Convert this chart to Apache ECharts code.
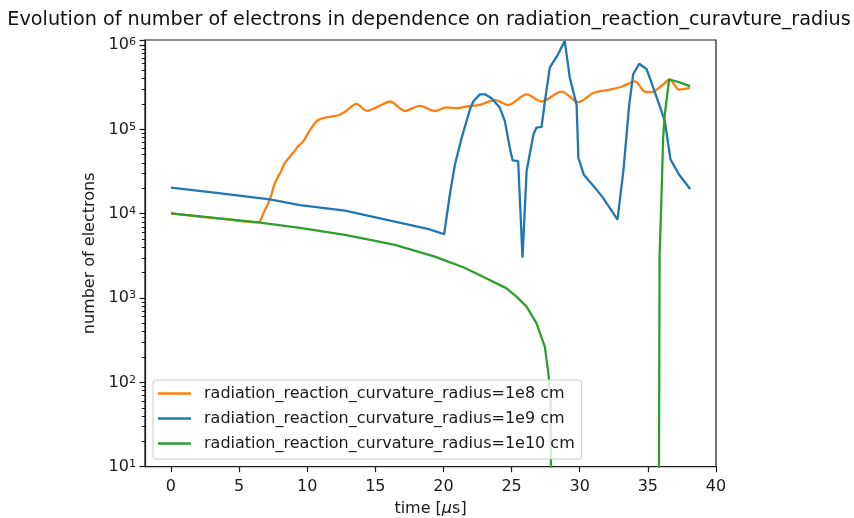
<!DOCTYPE html>
<html>
<head>
<meta charset="utf-8">
<script src="https://cdn.jsdelivr.net/npm/echarts@6/dist/echarts.min.js"></script>
<style>
html,body{margin:0;padding:0;background:#fff;}
#chart{width:854px;height:518px;}
</style>
</head>
<body>
<div id="chart"></div>
<script>
// ---- data ----
const titleText = 'Evolution of number of electrons in dependence on radiation_reaction_curavture_radius';
const seriesNames = [
  'radiation_reaction_curvature_radius=1e8 cm',
  'radiation_reaction_curvature_radius=1e9 cm',
  'radiation_reaction_curvature_radius=1e10 cm'
];
const xTicks = [0, 5, 10, 15, 20, 25, 30, 35, 40];
const yTicks = [10, 100, 1000, 10000, 100000, 1000000];

const orangeT = [0, 2, 4, 6.41, 6.77, 7.26, 7.63, 8.12, 8.36, 8.85, 9.34, 9.71, 10.2, 10.56, 10.8, 11.3, 12.28, 12.77, 13.62, 14.35, 15.2, 16.07, 17.17, 18.27, 19.37, 20.2, 20.96, 21.8, 22.67, 23.77, 24.75, 26.1, 27.2, 28.66, 29.9, 31.0, 32.2, 33.07, 34.04, 34.78, 35.27, 36.12, 36.6, 37.3, 38.1];
const orangeV = [1.01e4, 9.3e3, 8.6e3, 7.9e3, 1.0e4, 1.48e4, 2.3e4, 3.3e4, 4.0e4, 5.0e4, 6.3e4, 7.2e4, 9.8e4, 1.18e5, 1.29e5, 1.38e5, 1.47e5, 1.62e5, 2.0e5, 1.66e5, 1.86e5, 2.14e5, 1.66e5, 1.9e5, 1.65e5, 1.82e5, 1.78e5, 1.88e5, 1.95e5, 2.23e5, 1.95e5, 2.6e5, 2.14e5, 2.8e5, 2.1e5, 2.7e5, 2.96e5, 3.2e5, 3.7e5, 2.8e5, 2.76e5, 3.4e5, 3.9e5, 2.96e5, 3.1e5];

const blueT = [0, 3.5, 7.26, 9.46, 12.77, 16.43, 19.0, 19.37, 20.05, 20.47, 20.84, 21.33, 21.94, 22.18, 22.67, 23.04, 23.53, 24.14, 24.5, 24.87, 25.07, 25.48, 25.8, 26.1, 26.6, 26.83, 27.2, 27.44, 27.8, 28.4, 28.9, 29.27, 29.77, 29.9, 30.3, 31.1, 31.7, 32.2, 32.77, 33.2, 33.63, 33.92, 34.36, 34.9, 35.63, 36.24, 36.66, 37.3, 38.1];
const blueV = [2.04e4, 1.75e4, 1.48e4, 1.26e4, 1.09e4, 8.05e3, 6.5e3, 6.2e3, 5.7e3, 1.7e4, 3.8e4, 7.9e4, 1.72e5, 2.14e5, 2.6e5, 2.6e5, 2.34e5, 1.8e5, 1.26e5, 6.0e4, 4.3e4, 4.2e4, 3.0e3, 3.2e4, 8.7e4, 1.05e5, 1.07e5, 2.14e5, 5.4e5, 7.7e5, 1.12e6, 4.1e5, 1.95e5, 4.6e4, 2.9e4, 2.05e4, 1.55e4, 1.17e4, 8.5e3, 3.2e4, 1.95e5, 4.5e5, 6.0e5, 5.2e5, 2.45e5, 1.26e5, 4.4e4, 2.9e4, 1.96e4];

const greenT = [0, 3, 6.41, 9.46, 12.77, 14.36, 16.43, 19.37, 20.0, 21.5, 22.9, 24.6, 25.36, 26.1, 26.83, 27.44, 27.7, 27.86, 27.95, 35.78, 35.86, 35.99, 36.12, 36.24, 36.56, 37.1, 38.1];
const greenV = [1.01e4, 9.0e3, 7.9e3, 6.8e3, 5.6e3, 5.0e3, 4.27e3, 3.1e3, 2.83e3, 2.3e3, 1.79e3, 1.31e3, 1.04e3, 791, 500, 263, 128, 62, 0.1, 0.1, 3.2e3, 1.4e4, 7.9e4, 1.5e5, 3.9e5, 3.7e5, 3.25e5];

const colors = ['#ff7f0e', '#1f77b4', '#2ca02c'];

// ---- chart ----
const FONT = 'DejaVu Sans';
const TXT = '#1a1a1a';
const AX = '#1a1a1a';
const FS = 16;
function pairs(t, v) { return t.map((x, i) => [x, v[i]]); }
function isDecade(v) { return yTicks.some(t => Math.abs(t - v) / t < 1e-6); }

const chart = echarts.init(document.getElementById('chart'), null, {renderer: 'canvas'});
chart.setOption({
  animation: false,
  backgroundColor: '#fff',
  title: {
    text: titleText,
    left: 429,
    top: 11,
    padding: 0,
    textAlign: 'center',
    textStyle: {fontFamily: FONT, fontSize: 19.2, fontWeight: 'normal', color: '#111'}
  },
  grid: {left: 145, right: 138, top: 40, bottom: 51.3, show: true, borderColor: AX, borderWidth: 1.2, backgroundColor: 'transparent', containLabel: false, outerBoundsMode: 'none'},
  legend: {
    orient: 'vertical',
    left: 153,
    top: 380,
    padding: [5, 7, 7, 5],
    itemGap: 8,
    itemWidth: 33,
    itemHeight: 2.4,
    icon: 'rect',
    backgroundColor: 'rgba(255,255,255,0.8)',
    borderColor: '#cccccc',
    borderWidth: 1,
    borderRadius: 3,
    textStyle: {fontFamily: FONT, fontSize: FS, color: TXT, lineHeight: 17, padding: [0, 0, 0, 8]},
    data: seriesNames
  },
  xAxis: {
    type: 'value',
    min: -1.905,
    max: 40,
    name: '{n|time [}{i|μ}{n|s]}',
    nameLocation: 'middle',
    nameGap: 34,
    nameTextStyle: {
      rich: {
        n: {fontFamily: FONT, fontSize: FS, color: TXT},
        i: {fontFamily: FONT, fontSize: FS, color: TXT, fontStyle: 'italic'}
      }
    },
    axisLine: {show: true, onZero: false, lineStyle: {color: AX, width: 1.2}},
    axisTick: {show: true, length: 5.5, customValues: xTicks, lineStyle: {color: AX, width: 1.2}},
    axisLabel: {show: true, margin: 12, customValues: xTicks, fontFamily: FONT, fontSize: FS, color: TXT},
    splitLine: {show: false}
  },
  yAxis: {
    type: 'log',
    logBase: 10,
    min: 10,
    max: 1.147e6,
    name: 'number of electrons',
    nameLocation: 'middle',
    nameGap: 45,
    nameTextStyle: {fontFamily: FONT, fontSize: FS, color: TXT},
    axisLine: {show: true, onZero: false, lineStyle: {color: AX, width: 1.2}},
    axisTick: {show: true, length: 5.5, lineStyle: {color: AX, width: 1.2}},
    minorTick: {show: true, splitNumber: 9, length: 3.2, lineStyle: {color: AX, width: 1}},
    axisLabel: {
      show: true,
      margin: 9,
      showMaxLabel: false,
      formatter: function (v) { return isDecade(v) ? '{b|10}{s|' + Math.round(Math.log10(v)) + '}' : ''; },
      rich: {
        b: {fontFamily: FONT, fontSize: FS, color: TXT, lineHeight: 16, padding: [5, 0, 0, 0], verticalAlign: 'bottom'},
        s: {fontFamily: FONT, fontSize: 11.2, color: TXT, lineHeight: 12, verticalAlign: 'top'}
      }
    },
    splitLine: {show: false}
  },
  series: [
    {name: seriesNames[0], type: 'line', data: pairs(orangeT, orangeV), showSymbol: false, symbol: 'none', smooth: 0.3, clip: true, lineStyle: {color: colors[0], width: 2.3}, itemStyle: {color: colors[0]}},
    {name: seriesNames[1], type: 'line', data: pairs(blueT, blueV), showSymbol: false, symbol: 'none', clip: true, lineStyle: {color: colors[1], width: 2.3}, itemStyle: {color: colors[1]}},
    {name: seriesNames[2], type: 'line', data: pairs(greenT, greenV), showSymbol: false, symbol: 'none', clip: true, lineStyle: {color: colors[2], width: 2.3}, itemStyle: {color: colors[2]}}
  ]
});
</script>
</body>
</html>
